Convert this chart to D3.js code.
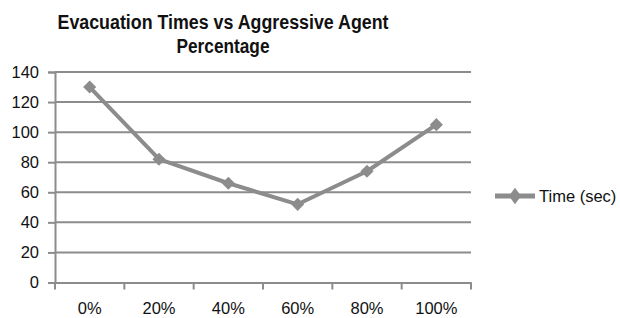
<!DOCTYPE html>
<html>
<head>
<meta charset="utf-8">
<script src="https://cdn.jsdelivr.net/npm/d3@7"></script>
<style>
  body { margin: 0; background: #fff; }
  svg { font-family: "Liberation Sans", Arial, sans-serif; }
</style>
</head>
<body>
<div id="viz_div"></div>
<script>
// DATA
const categories = ["0%", "20%", "40%", "60%", "80%", "100%"];
const times = [130, 82, 66, 52, 74, 105];
const yTicks = [0, 20, 40, 60, 80, 100, 120, 140];
const seriesName = "Time (sec)";
const titleLines = ["Evacuation Times vs Aggressive Agent", "Percentage"];

const width = 620, height = 318;
const plot = { left: 55, right: 471, top: 72, bottom: 282.5 };
const grey = "#8c8c8c";

const svg = d3.select("#viz_div").append("svg")
  .attr("width", width)
  .attr("height", height);

// SCALES
const x = d3.scaleBand().domain(categories).range([plot.left, plot.right]);
const y = d3.scaleLinear([0, 140], [plot.bottom, plot.top]);

// GRIDLINES
svg.append("g").selectAll("line")
  .data(yTicks.filter(d => d > 0))
  .enter().append("line")
  .attr("x1", plot.left).attr("x2", plot.right)
  .attr("y1", d => y(d)).attr("y2", d => y(d))
  .attr("stroke", grey).attr("stroke-width", 2);

// Y AXIS
const yAxis = svg.append("g")
  .attr("transform", `translate(${plot.left},0)`)
  .call(d3.axisLeft(y).tickValues(yTicks).tickSize(7).tickPadding(9));
yAxis.select(".domain").attr("stroke", grey).attr("stroke-width", 2);
yAxis.selectAll(".tick line").attr("stroke", grey).attr("stroke-width", 2);
yAxis.selectAll(".tick text").attr("fill", "#111").style("font-size", "16.5px");

// X AXIS
const xAxis = svg.append("g")
  .attr("transform", `translate(0,${plot.bottom})`)
  .call(d3.axisBottom(x).tickSize(0).tickPadding(20));
xAxis.select(".domain").attr("stroke", grey).attr("stroke-width", 2);
xAxis.selectAll(".tick text").attr("fill", "#111").style("font-size", "16.5px");
svg.append("g").selectAll("line")
  .data(d3.range(categories.length + 1))
  .enter().append("line")
  .attr("x1", i => plot.left + i * x.step()).attr("x2", i => plot.left + i * x.step())
  .attr("y1", plot.bottom).attr("y2", plot.bottom + 7)
  .attr("stroke", grey).attr("stroke-width", 2);

// LINE AND MARKERS
const cx = (d, i) => x(categories[i]) + x.bandwidth() / 2;
svg.append("path")
  .datum(times)
  .attr("fill", "none")
  .attr("stroke", grey)
  .attr("stroke-width", 4)
  .attr("stroke-linejoin", "round")
  .attr("d", d3.line().x(cx).y(d => y(d)));

const diamond = d3.symbol().type(d3.symbolDiamond2).size(110);
svg.append("g").selectAll("path")
  .data(times)
  .enter().append("path")
  .attr("d", diamond)
  .attr("transform", (d, i) => `translate(${cx(d, i)},${y(d)})`)
  .attr("fill", grey);

// TITLE
svg.append("g").selectAll("text")
  .data(titleLines)
  .enter().append("text")
  .attr("x", 223)
  .attr("y", (d, i) => 29 + i * 24)
  .attr("text-anchor", "middle")
  .attr("textLength", (d, i) => i === 0 ? 331 : 93)
  .attr("lengthAdjust", "spacingAndGlyphs")
  .style("font-size", "19.5px")
  .style("font-weight", "bold")
  .attr("fill", "#111")
  .text(d => d);

// LEGEND
svg.append("line")
  .attr("x1", 495).attr("x2", 535)
  .attr("y1", 196).attr("y2", 196)
  .attr("stroke", grey).attr("stroke-width", 5);
svg.append("path")
  .attr("d", d3.symbol().type(d3.symbolDiamond2).size(130))
  .attr("transform", "translate(515,196) scale(0.85,1.15)")
  .attr("fill", grey);
svg.append("text")
  .attr("x", 539).attr("y", 202)
  .style("font-size", "16.5px")
  .attr("fill", "#111")
  .text(seriesName);
</script>
</body>
</html>
